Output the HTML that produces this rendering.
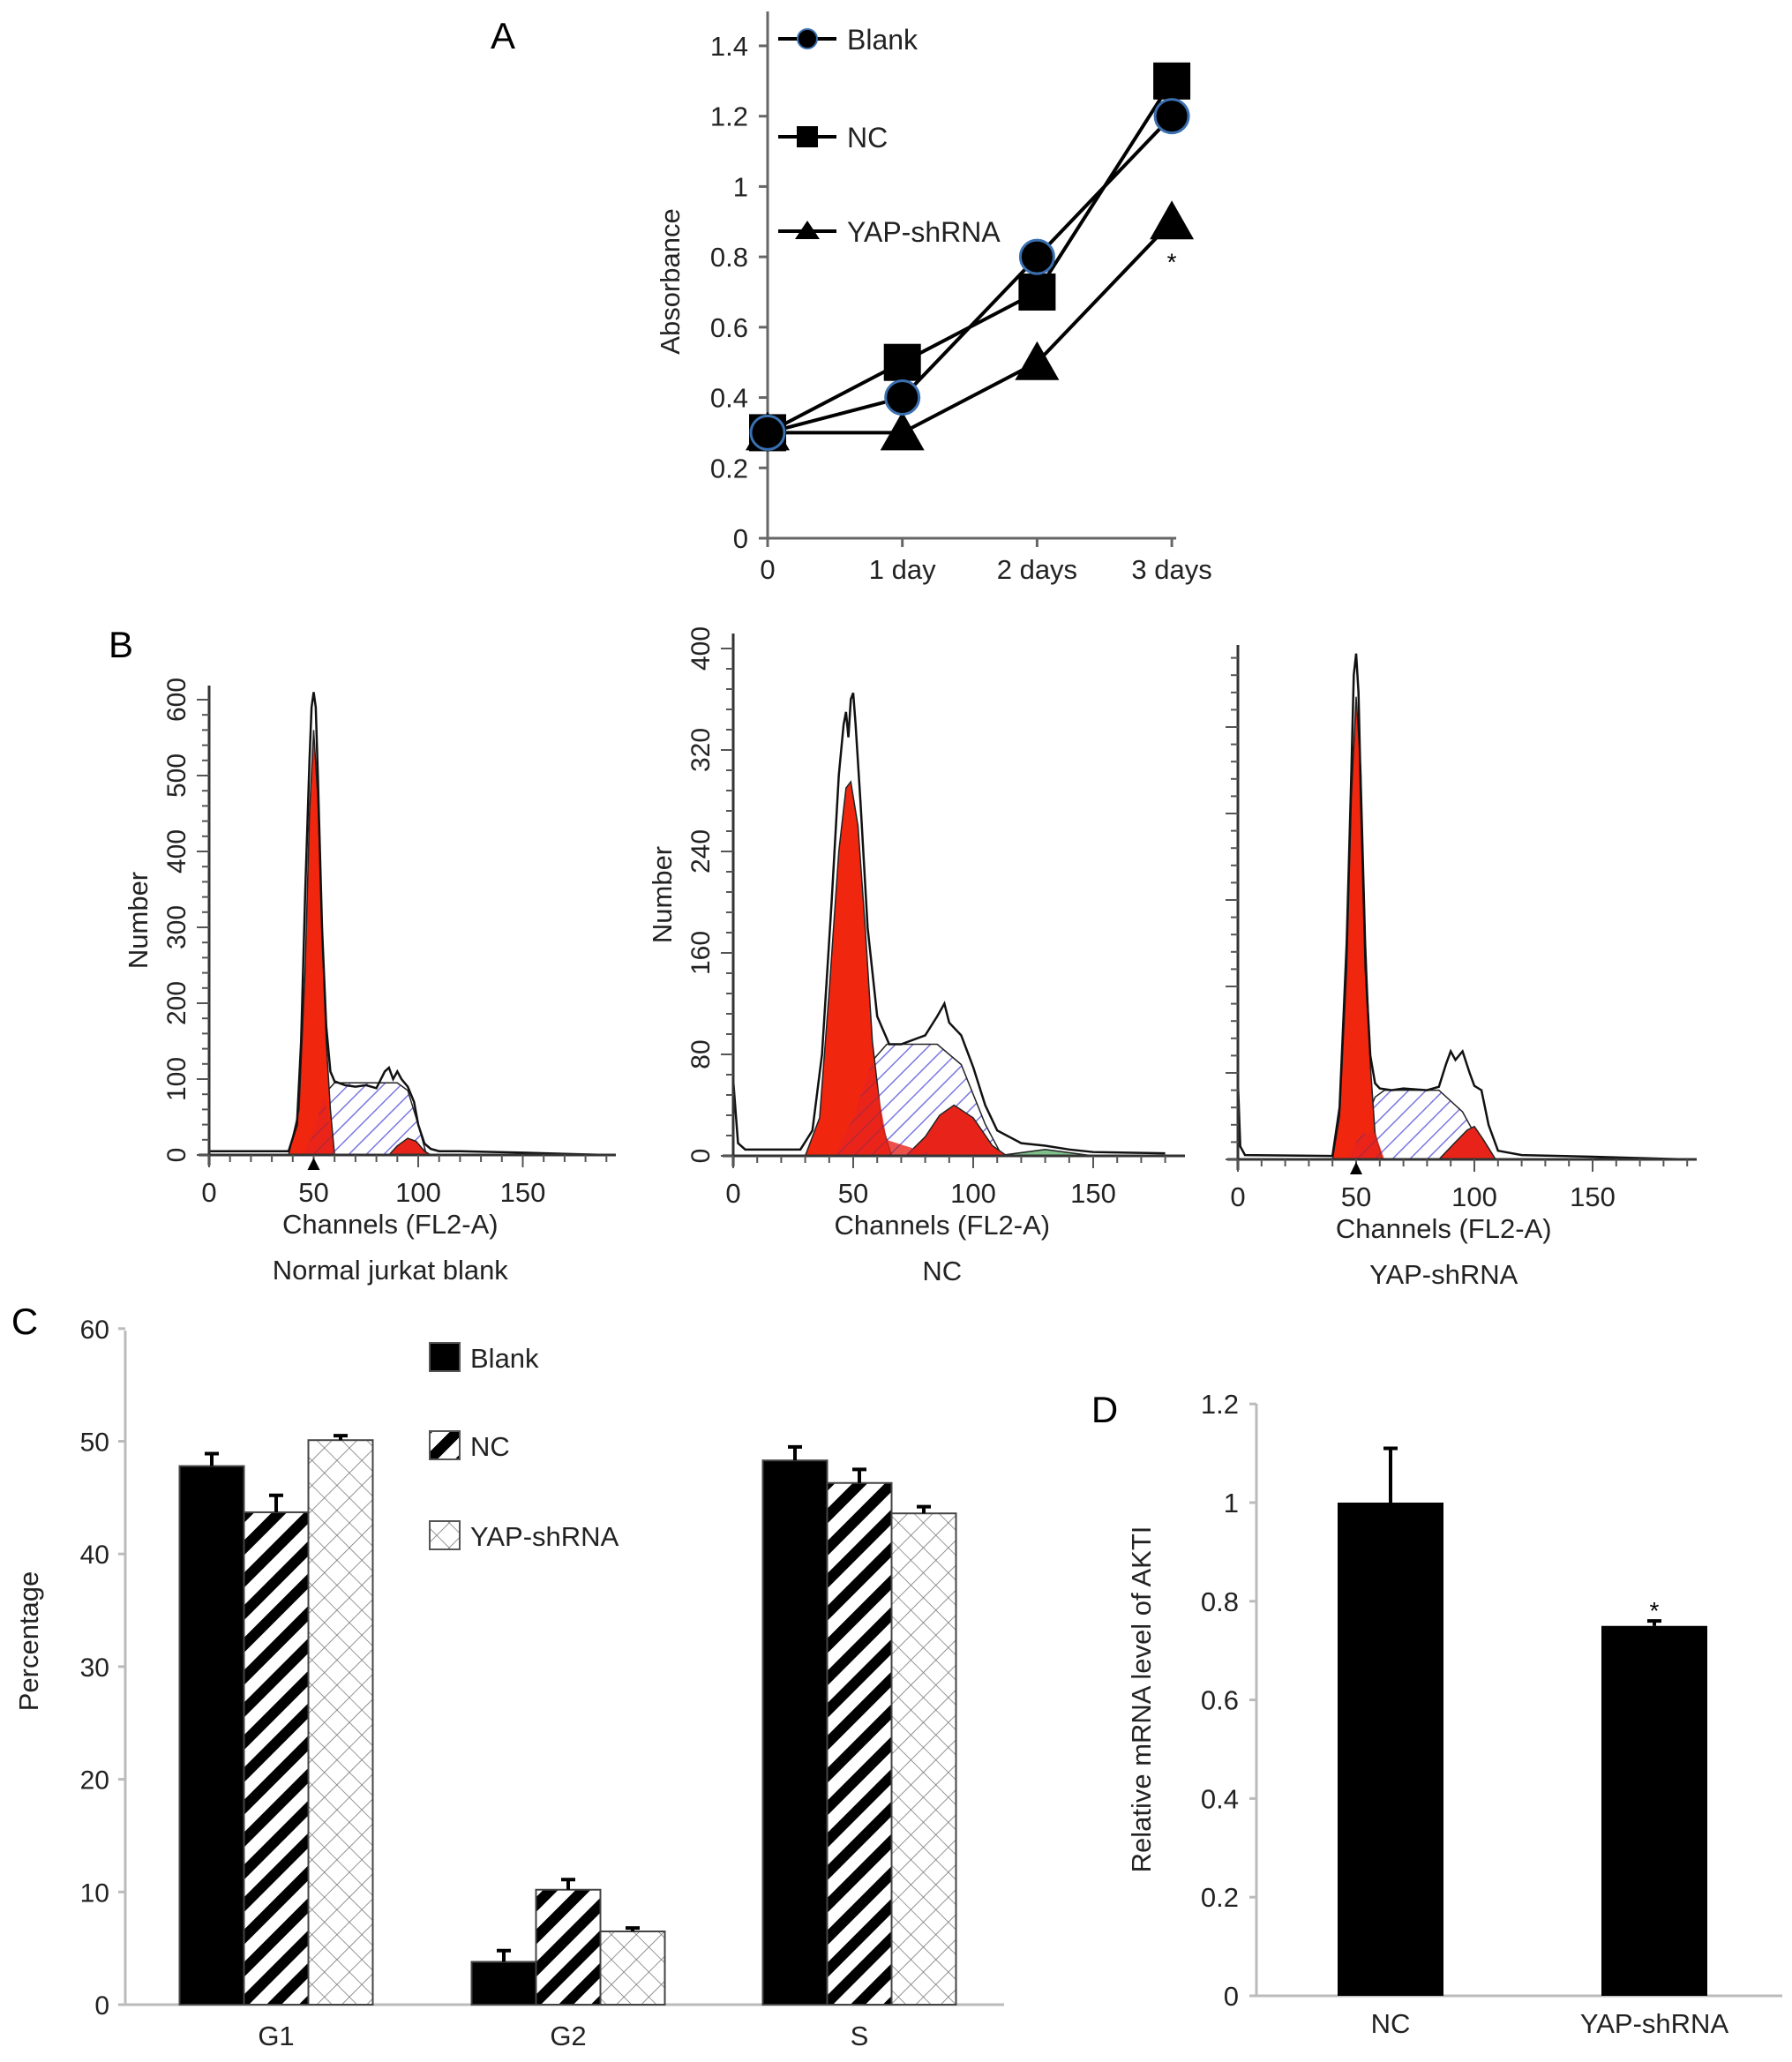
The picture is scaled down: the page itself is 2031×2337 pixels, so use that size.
<!DOCTYPE html>
<html><head><meta charset="utf-8"><style>
html,body{margin:0;padding:0;background:#fff;}
svg{display:block;font-family:"Liberation Sans",sans-serif;}
</style></head><body>
<svg id="fig" width="2031" height="2337" viewBox="0 0 2031 2337" xmlns="http://www.w3.org/2000/svg">
<defs>
<pattern id="blueHatch" patternUnits="userSpaceOnUse" width="14" height="14" patternTransform="rotate(45)"><rect width="14" height="14" fill="#fff"/><line x1="0" y1="0" x2="0" y2="14" stroke="#7a78e0" stroke-width="3"/></pattern>
<pattern id="redHatch" patternUnits="userSpaceOnUse" width="14" height="14" patternTransform="rotate(45)"><rect width="14" height="14" fill="#e8241a"/><line x1="0" y1="0" x2="0" y2="14" stroke="#8a2a5a" stroke-width="2"/></pattern>
<pattern id="ncStripe" patternUnits="userSpaceOnUse" width="26" height="26" patternTransform="rotate(45)"><rect width="26" height="26" fill="#fff"/><rect x="0" y="0" width="12" height="26" fill="#000"/></pattern>
<pattern id="cross" patternUnits="userSpaceOnUse" width="20" height="20" patternTransform="rotate(45)"><rect width="20" height="20" fill="#fff"/><line x1="0" y1="0" x2="0" y2="20" stroke="#777" stroke-width="1.6"/><line x1="0" y1="0" x2="20" y2="0" stroke="#777" stroke-width="1.6"/></pattern>
</defs>
<g id="panelA"></g>
<g id="panelB"></g>
<g id="panelC"></g>
<g id="panelD"></g>
</svg>
<script>
// ---------- Panel A data ----------
const aCategories = ["0","1 day","2 days","3 days"];
const aBlank = [0.3,0.4,0.8,1.2];
const aNC = [0.3,0.5,0.7,1.3];
const aYAP = [0.3,0.3,0.5,0.9];
const aYTicks = [0,0.2,0.4,0.6,0.8,1,1.2,1.4];
// ---------- Panel B data ----------
const b1EnvCh = [0,38,42,44,46,48,49,50,51,52,54,56,58,60,65,70,75,80,84,86,88,90,92,95,98,100,103,106,110,120,150,190];
const b1EnvCt = [5,5,40,150,350,520,590,610,590,500,300,170,110,97,92,90,92,88,110,115,100,110,100,90,70,40,15,8,5,5,3,0];
const b1G1Ch = [38,43,46,48,50,52,54,56,58,60];
const b1G1Ct = [0,60,250,450,560,470,300,150,60,0];
const b1SCh = [45,50,55,60,90,95,100,104];
const b1SCt = [0,30,80,95,95,85,40,0];
const b1G2Ch = [86,90,95,99,103,106];
const b1G2Ct = [0,12,22,18,5,0];
const b2EnvCh = [0,2,5,28,33,37,41,44,46,47,48,49,50,51,53,56,60,65,70,80,85,88,90,95,100,105,110,120,130,140,150,180];
const b2EnvCt = [60,10,5,5,20,80,200,300,340,350,330,360,365,340,280,180,110,88,88,95,110,120,105,95,70,40,20,10,8,5,3,2];
const b2G1Ch = [30,36,40,44,47,49,52,55,58,62,66];
const b2G1Ct = [0,30,130,240,290,295,260,180,90,25,0];
const b2SCh = [42,50,58,64,85,95,105,112];
const b2SCt = [0,30,75,88,88,72,25,0];
const b2G2Ch = [72,80,86,92,100,108,114];
const b2G2Ct = [0,15,32,40,30,8,0];
const b2GrCh = [110,130,150];
const b2GrCt = [0,5,0];
const b3EnvCh = [0,1,3,40,43,46,48,49,50,51,52,54,56,58,60,65,70,80,85,88,90,92,95,98,100,103,106,110,120,150,190];
const b3EnvCt = [90,15,5,4,60,250,450,560,585,540,420,220,120,88,82,80,82,80,84,110,125,115,125,100,85,80,40,10,5,3,0];
const b3G1Ch = [40,43,46,48,50,52,54,56,58,61];
const b3G1Ct = [0,50,220,420,535,450,250,110,30,0];
const b3SCh = [46,52,58,62,85,95,102,108];
const b3SCt = [0,30,72,80,80,55,20,0];
const b3G2Ch = [85,92,97,100,104,109];
const b3G2Ct = [0,20,34,38,22,0];
const b1YTicks = [0,100,200,300,400,500,600];
const b2YTicks = [0,80,160,240,320,400];
const bXTicks = [0,50,100,150];
// ---------- Panel C data ----------
const cCategories = ["G1","G2","S"];
const cBlank = [47.8,3.8,48.3];
const cNC = [43.7,10.2,46.3];
const cYAP = [50.1,6.5,43.6];
const cBlankErr = [1.1,1.0,1.2];
const cNCErr = [1.5,0.9,1.2];
const cYAPErr = [0.4,0.3,0.6];
const cYTicks = [0,10,20,30,40,50,60];
// ---------- Panel D data ----------
const dCategories = ["NC","YAP-shRNA"];
const dValues = [1.0,0.75];
const dErr = [0.11,0.01];
const dYTicks = [0,0.2,0.4,0.6,0.8,1,1.2];

const NS="http://www.w3.org/2000/svg";
function mk(parent,tag,attrs,text){const e=document.createElementNS(NS,tag);for(const k in attrs)e.setAttribute(k,attrs[k]);if(text!==undefined)e.textContent=text;parent.appendChild(e);return e;}

// ===== Panel A =====
(function(){
const g=document.getElementById('panelA');
const x0=870,xStep=152.7,y0=610,yPer=398.6;
const X=i=>x0+i*xStep, Y=v=>y0-v*yPer;
let t;
t=mk(g,'text',{x:570,y:55,'font-size':42,'text-anchor':'middle'},'A');

t=mk(g,'line',{x1:x0,y1:13,x2:x0,y2:y0+10,stroke:'#666','stroke-width':3});

t=mk(g,'line',{x1:x0-10,y1:y0,x2:X(3)+5,y2:y0,stroke:'#666','stroke-width':3});

aYTicks.forEach(v=>{
 mk(g,'line',{x1:x0-10,y1:Y(v),x2:x0,y2:Y(v),stroke:'#666','stroke-width':3});
 t=mk(g,'text',{x:x0-22,y:Y(v)+11,'font-size':31,'text-anchor':'end',fill:'#222'},String(v));
 
});
aCategories.forEach((c,i)=>{
 mk(g,'line',{x1:X(i),y1:y0,x2:X(i),y2:y0+10,stroke:'#666','stroke-width':3});
 t=mk(g,'text',{x:X(i),y:y0+46,'font-size':31,'text-anchor':'middle',fill:'#222'},c);
 
});
t=mk(g,'text',{x:0,y:0,'font-size':31,'text-anchor':'middle',transform:'translate(770,319) rotate(-90)',fill:'#222'},'Absorbance');

function marker(kind,cx,cy){
 let m;
 if(kind==='circle'){m=mk(g,'circle',{cx:cx,cy:cy,r:19,fill:'#000',stroke:'#3a6fb0','stroke-width':3});}
 else if(kind==='square'){m=mk(g,'rect',{x:cx-21,y:cy-21,width:42,height:42,fill:'#000'});}
 else {m=mk(g,'polygon',{points:`${cx},${cy-24} ${cx+25},${cy+20} ${cx-25},${cy+20}`,fill:'#000'});}
 return m;
}
const series=[['blank',aBlank,'circle'],['nc',aNC,'square'],['yap',aYAP,'triangle']];
series.forEach(([n,vals])=>{
 t=mk(g,'polyline',{points:vals.map((v,i)=>X(i)+','+Y(v)).join(' '),fill:'none',stroke:'#000','stroke-width':4});
 
});
[2,1,0].forEach(s=>{const [n,vals,k]=series[s];vals.forEach((v,i)=>{const m=marker(k,X(i),Y(v));});});
t=mk(g,'text',{x:X(3),y:Y(aYAP[3])+55,'font-size':28,'text-anchor':'middle'},'*');

const leg=[['Blank','circle',44],['NC','square',155],['YAP-shRNA','triangle',262]];
leg.forEach(([lab,k,y])=>{
 const lg=mk(g,'g',{});
 
 mk(lg,'line',{x1:882,y1:y,x2:948,y2:y,stroke:'#000','stroke-width':4});
 if(k==='circle')mk(lg,'circle',{cx:915,cy:y,r:11,fill:'#000',stroke:'#3a6fb0','stroke-width':2});
 else if(k==='square')mk(lg,'rect',{x:903,y:y-12,width:24,height:24,fill:'#000'});
 else mk(lg,'polygon',{points:`915,${y-12} 929,${y+9} 901,${y+9}`,fill:'#000'});
 mk(lg,'text',{x:960,y:y+12,'font-size':32,fill:'#222'},lab);
});
})();

// ===== Panel B =====
(function(){
const g=document.getElementById('panelB');
let t=mk(g,'text',{x:137,y:745,'font-size':42,'text-anchor':'middle'},'B');

const panels=[
 {name:'blank',ax:237,px50:118.5,y0:1309,ppu:0.86,top:777,end:698,env:[b1EnvCh,b1EnvCt],g1:[b1G1Ch,b1G1Ct],s:[b1SCh,b1SCt],g2:[b1G2Ch,b1G2Ct],gr:null,ticks:b1YTicks,minor:20,title:'Normal jurkat blank',marker:true,lbl:true},
 {name:'nc',ax:831,px50:136,y0:1310,ppu:1.4375,top:718,end:1343,env:[b2EnvCh,b2EnvCt],g1:[b2G1Ch,b2G1Ct],s:[b2SCh,b2SCt],g2:[b2G2Ch,b2G2Ct],gr:[b2GrCh,b2GrCt],ticks:b2YTicks,minor:16,title:'NC',marker:false,lbl:true},
 {name:'yap',ax:1403,px50:134,y0:1314,ppu:0.98,top:731,end:1923,env:[b3EnvCh,b3EnvCt],g1:[b3G1Ch,b3G1Ct],s:[b3SCh,b3SCt],g2:[b3G2Ch,b3G2Ct],gr:null,ticks:[0,100,200,300,400,500],minor:20,title:'YAP-shRNA',marker:true,lbl:false}
];
panels.forEach(p=>{
 const X=c=>p.ax+c*p.px50/50, Y=v=>p.y0-v*p.ppu;
 const pg=mk(g,'g',{});
 
 function area(arr,fill,nm){
  const pts=arr[0].map((c,i)=>X(c)+','+Y(arr[1][i])).join(' ');
  const e=mk(pg,'polygon',{points:X(arr[0][0])+','+p.y0+' '+pts+' '+X(arr[0][arr[0].length-1])+','+p.y0,fill:fill,stroke:'#222','stroke-width':1.5});
  
 }
 area(p.s,'url(#blueHatch)','s-phase-area');
 if(p.gr)area(p.gr,'#7fc08a','debris-area');
 area(p.g1,'#f0260f','g1-peak-area');
 area(p.g2,'#e8241a','g2-peak-area');
 const ov=p.s[0].map((c,i)=>{let lim=0;const ch=p.g1[0],ct=p.g1[1];for(let j=0;j<ch.length-1;j++){if(c>=ch[j]&&c<=ch[j+1]){lim=ct[j]+(ct[j+1]-ct[j])*(c-ch[j])/(ch[j+1]-ch[j]);}}return Math.min(lim,p.s[1][i]);});
 const e2=mk(pg,'polygon',{points:X(p.s[0][0])+','+p.y0+' '+p.s[0].map((c,i)=>X(c)+','+Y(ov[i])).join(' ')+' '+X(p.s[0][p.s[0].length-1])+','+p.y0,fill:'url(#redHatch)',opacity:0.8});
 
 const env=mk(pg,'polyline',{points:p.env[0].map((c,i)=>X(c)+','+Y(p.env[1][i])).join(' '),fill:'none',stroke:'#111','stroke-width':2.5});
 
 t=mk(pg,'line',{x1:p.ax,y1:p.top,x2:p.ax,y2:p.y0+12,stroke:'#333','stroke-width':3});
 
 t=mk(pg,'line',{x1:p.ax-12,y1:p.y0,x2:p.end,y2:p.y0,stroke:'#333','stroke-width':3});
 
 for(let c=0;X(c)<=p.end;c+=10){mk(pg,'line',{x1:X(c),y1:p.y0,x2:X(c),y2:p.y0+(c%50===0?14:8),stroke:'#555','stroke-width':2});}
 for(let v=0;Y(v)>=p.top;v+=p.minor){const maj=p.ticks.indexOf(v)>=0;mk(pg,'line',{x1:p.ax-(maj?14:8),y1:Y(v),x2:p.ax,y2:Y(v),stroke:'#555','stroke-width':2});}
 if(p.lbl){p.ticks.forEach(v=>{t=mk(pg,'text',{x:0,y:0,'font-size':30,'text-anchor':'middle',transform:`translate(${p.ax-27},${Y(v)}) rotate(-90)`,fill:'#222'},String(v));});
  t=mk(pg,'text',{x:0,y:0,'font-size':31,'text-anchor':'middle',transform:`translate(${p.ax-70},${(p.y0+p.top)/2}) rotate(-90)`,fill:'#222'},'Number');}
 bXTicks.forEach(v=>{t=mk(pg,'text',{x:X(v),y:p.y0+53,'font-size':31,'text-anchor':'middle',fill:'#222'},String(v));});
 if(p.marker){mk(pg,'polygon',{points:`${X(50)},${p.y0+3} ${X(50)+7},${p.y0+17} ${X(50)-7},${p.y0+17}`,fill:'#000'});}
 t=mk(pg,'text',{x:X(90)-8,y:p.y0+89,'font-size':31,'text-anchor':'middle',fill:'#222'},'Channels (FL2-A)');
 
 t=mk(pg,'text',{x:X(90)-8,y:p.y0+141,'font-size':31,'text-anchor':'middle',fill:'#222'},p.title);
 
});
})();

// ===== Panel C =====
(function(){
const g=document.getElementById('panelC');
const ax=142,y0=2272,per=12.77,top=1508,right=1138;
const Y=v=>y0-v*per;
const centers=[313,644,974],bw=73;
let t=mk(g,'text',{x:28,y:1512,'font-size':42,'text-anchor':'middle'},'C');

t=mk(g,'line',{x1:ax,y1:top,x2:ax,y2:y0,stroke:'#bbb','stroke-width':3});

t=mk(g,'line',{x1:ax-8,y1:y0,x2:right,y2:y0,stroke:'#bbb','stroke-width':3});

cYTicks.forEach(v=>{mk(g,'line',{x1:ax-8,y1:Y(v),x2:ax,y2:Y(v),stroke:'#bbb','stroke-width':3});
 t=mk(g,'text',{x:ax-18,y:Y(v)+11,'font-size':30,'text-anchor':'end',fill:'#222'},String(v));});
t=mk(g,'text',{x:0,y:0,'font-size':31,'text-anchor':'middle',transform:'translate(43,1860) rotate(-90)',fill:'#222'},'Percentage');

const ser=[['blank',cBlank,cBlankErr,'#000'],['nc',cNC,cNCErr,'url(#ncStripe)'],['yap',cYAP,cYAPErr,'url(#cross)']];
cCategories.forEach((c,i)=>{
 ser.forEach(([n,vals,errs,fill],s)=>{
  const x=centers[i]+(s-1.5)*bw;
  const r=mk(g,'rect',{x:x,y:Y(vals[i]),width:bw,height:y0-Y(vals[i]),fill:fill,stroke:'#444','stroke-width':2});
  
  const cx=x+bw/2,ye=Y(vals[i]+errs[i]);
  const e=mk(g,'path',{d:`M${cx},${Y(vals[i])} V${ye} M${cx-8},${ye} H${cx+8}`,stroke:'#000','stroke-width':4,fill:'none'});
  
 });
 t=mk(g,'text',{x:centers[i],y:2318,'font-size':31,'text-anchor':'middle',fill:'#222'},c);
 
});
[['Blank','#000',1522],['NC','url(#ncStripe)',1622],['YAP-shRNA','url(#cross)',1724]].forEach(([lab,f,y])=>{
 const lg=mk(g,'g',{});
 mk(lg,'rect',{x:487,y:y,width:34,height:32,fill:f,stroke:'#555','stroke-width':2});
 mk(lg,'text',{x:533,y:y+28,'font-size':31,fill:'#222'},lab);
});
})();

// ===== Panel D =====
(function(){
const g=document.getElementById('panelD');
const ax=1424,y0=2262,per=559,top=1591,right=2020;
const Y=v=>y0-v*per;
const centers=[1576,1875],bw=120;
let t=mk(g,'text',{x:1252,y:1612,'font-size':42,'text-anchor':'middle'},'D');

t=mk(g,'line',{x1:ax,y1:top,x2:ax,y2:y0,stroke:'#bbb','stroke-width':3});

t=mk(g,'line',{x1:ax-8,y1:y0,x2:right,y2:y0,stroke:'#bbb','stroke-width':3});

dYTicks.forEach(v=>{mk(g,'line',{x1:ax-8,y1:Y(v),x2:ax,y2:Y(v),stroke:'#bbb','stroke-width':3});
 t=mk(g,'text',{x:ax-20,y:Y(v)+11,'font-size':31,'text-anchor':'end',fill:'#222'},String(v));});
t=mk(g,'text',{x:0,y:0,'font-size':31,'text-anchor':'middle',transform:'translate(1304,1926) rotate(-90)',fill:'#222'},'Relative mRNA level of AKTI');

dCategories.forEach((c,i)=>{
 const x=centers[i]-bw/2;
 const r=mk(g,'rect',{x:x,y:Y(dValues[i]),width:bw,height:y0-Y(dValues[i]),fill:'#000'});
 
 const ye=Y(dValues[i]+dErr[i]);
 const e=mk(g,'path',{d:`M${centers[i]},${Y(dValues[i])} V${ye} M${centers[i]-8},${ye} H${centers[i]+8}`,stroke:'#000','stroke-width':4,fill:'none'});
 
 t=mk(g,'text',{x:centers[i],y:2304,'font-size':31,'text-anchor':'middle',fill:'#222'},c);
 
});
t=mk(g,'text',{x:centers[1],y:Y(dValues[1]+dErr[1])-2,'font-size':28,'text-anchor':'middle'},'*');

})();
</script>
</body></html>
